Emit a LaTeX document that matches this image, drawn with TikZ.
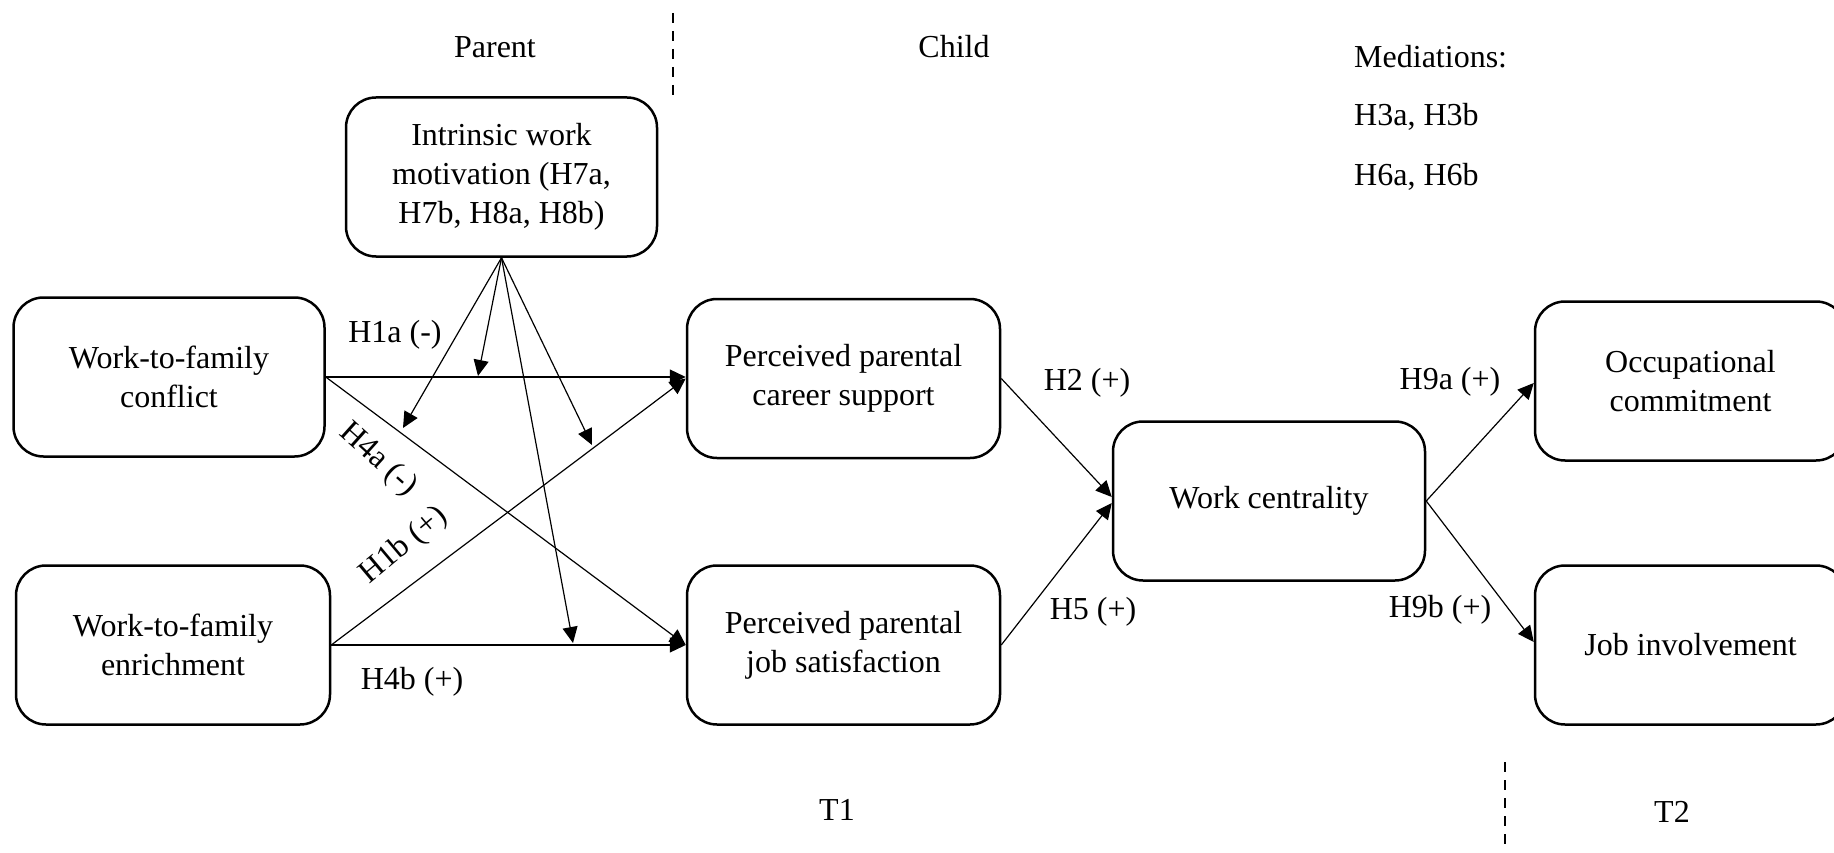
\documentclass[tikz,border=0pt]{standalone}
\usepackage{fontspec}
\setmainfont{Liberation Serif}
\usetikzlibrary{arrows.meta}
\begin{document}
\begin{tikzpicture}[x=1pt,y=-1pt,
  box/.style={draw, line width=2.5pt, rounded corners=30pt, minimum width=311pt, minimum height=159pt, align=center, inner sep=0pt, font=\fontsize{32}{39}\selectfont},
  lbl/.style={font=\fontsize{32}{39}\selectfont, inner sep=0pt},
  arr/.style={line width=1.2pt, -{Triangle[length=16pt,width=15pt]}},
  sep/.style={line width=2.5pt, dash pattern=on 10pt off 8pt}]
\useasboundingbox (0,0) rectangle (1834,853);
% boxes
\node[box] (int) at (501.5,177) {Intrinsic work\\motivation (H7a,\\H7b, H8a, H8b)};
\node[box] (wfc) at (169,377) {Work-to-family\\conflict};
\node[box, minimum width=314pt] (wfe) at (173,645) {Work-to-family\\enrichment};
\node[box, minimum width=313pt] (ppcs) at (843.5,378.5) {Perceived parental\\career support};
\node[box, minimum width=313pt] (ppjs) at (843.5,645) {Perceived parental\\job satisfaction};
\node[box, minimum width=312pt] (wc) at (1269,501) {Work centrality};
\node[box] (oc) at (1690.5,381) {Occupational\\commitment};
\node[box] (ji) at (1690.5,645) {Job involvement};
% main paths
\draw[arr] (wfc.east) -- (wfc.east -| ppcs.west);
\draw[arr] (wfc.east) -- (ppjs.west);
\draw[arr] (wfe.east) -- (ppcs.west);
\draw[arr] (wfe.east) -- (ppjs.west);
\draw[arr] (ppcs.east) -- ([yshift=4pt]wc.west);
\draw[arr] (ppjs.east) -- ([yshift=-2pt]wc.west);
\draw[arr] (wc.east) -- ([yshift=-2pt]oc.west);
\draw[arr] (wc.east) -- ([yshift=3pt]ji.west);
% moderation
\coordinate (m1) at (403,428);
\coordinate (m2) at (478,376);
\coordinate (m3) at (592,445);
\coordinate (m4) at (573,643);
\draw[arr] (int.south) -- (m1);
\draw[arr] (int.south) -- (m2);
\draw[arr] (int.south) -- (m3);
\draw[arr] (int.south) -- (m4);
% path labels
\node[lbl] (l1a) at (395,335) {H1a (-)};
\node[lbl, rotate=-42] (l4a) at (378,460) {H4a (-)};
\node[lbl, rotate=40] (l1b) at (404,546) {H1b (+)};
\node[lbl] (l4b) at (412,682) {H4b (+)};
\node[lbl] (l2) at (1087,383) {H2 (+)};
\node[lbl] (l5) at (1093,612) {H5 (+)};
\node[lbl] (l9a) at (1450,382) {H9a (+)};
\node[lbl] (l9b) at (1440,610) {H9b (+)};
% headers
\node[lbl] (parent) at (495,47) {Parent};
\node[lbl] (child) at (954,47) {Child};
\node[lbl, anchor=west] (med) at (1354,57) {Mediations:};
\node[lbl, anchor=west] (h3) at (1354,117) {H3a, H3b};
\node[lbl, anchor=west] (h6) at (1354,177) {H6a, H6b};
\node[lbl] (t1) at (837,810) {T1};
\node[lbl] (t2) at (1672,812) {T2};
% separators
\draw[sep] (673,13) -- (673,97);
\draw[sep] (1505,762) -- (1505,846);
\end{tikzpicture}
\end{document}
